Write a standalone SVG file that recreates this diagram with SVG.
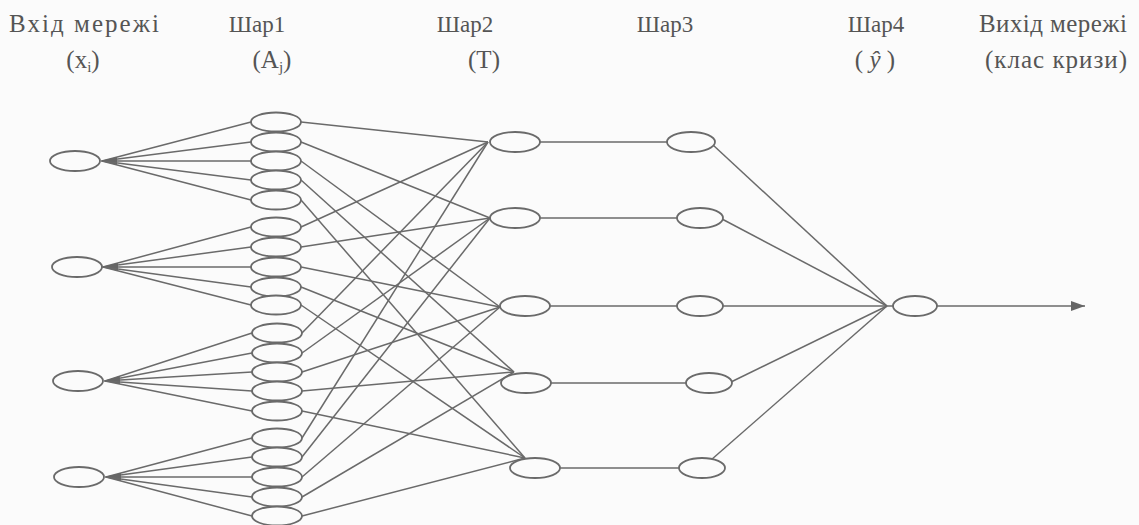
<svg xmlns="http://www.w3.org/2000/svg" width="1139" height="525" viewBox="0 0 1139 525">
<style>
.bg{fill:#fbfbfb}
.n ellipse{fill:#fbfbfb;stroke:#6a6a6a;stroke-width:1.8}
.c line{stroke:#6a6a6a;stroke-width:1.5}
.t{font-family:"Liberation Serif","Times New Roman",serif;font-size:23px;fill:#555;text-anchor:middle}
.w{font-size:25px}
</style>
<defs>
<marker id="ah" markerUnits="userSpaceOnUse" markerWidth="14" markerHeight="10" refX="14" refY="5" orient="auto">
<path d="M0,0 L14,5 L0,10 z" fill="#666"/>
</marker>
<marker id="ai" markerUnits="userSpaceOnUse" markerWidth="16" markerHeight="8" refX="16" refY="4" orient="auto">
<path d="M0,0 L16,4 L0,8 z" fill="#666"/>
</marker>
</defs>
<rect class="bg" x="0" y="0" width="1139" height="525"/>

<g id="labels" class="t">
<text class="w" x="84" y="32" textLength="150" lengthAdjust="spacing">Вхід мережі</text>
<text class="w" x="83" y="68">(x<tspan font-size="15" dy="4">i</tspan><tspan dy="-4">)</tspan></text>
<text x="257" y="32">Шар1</text>
<text class="w" x="272" y="68">(A<tspan font-size="15" dy="4">j</tspan><tspan dy="-4">)</tspan></text>
<text x="465" y="32">Шар2</text>
<text class="w" x="484" y="68">(T)</text>
<text x="665" y="32">Шар3</text>
<text x="876" y="32">Шар4</text>
<text class="w" x="875" y="68">( <tspan font-style="italic">ŷ</tspan> )</text>
<text class="w" x="1053" y="32" textLength="148" lengthAdjust="spacing">Вихід мережі</text>
<text class="w" x="1056" y="68" textLength="142" lengthAdjust="spacing">(клас кризи)</text>
</g>

<g id="connectors" class="c">
<!-- inputs to layer1 -->
<line x1="251" y1="122" x2="102" y2="161"/>
<line x1="251" y1="142" x2="102" y2="161"/>
<line x1="251" y1="161" x2="101" y2="161" marker-end="url(#ai)"/>
<line x1="251" y1="180" x2="102" y2="161"/>
<line x1="251" y1="200" x2="102" y2="161"/>
<line x1="251" y1="227" x2="103" y2="267"/>
<line x1="251" y1="247" x2="103" y2="267"/>
<line x1="251" y1="267" x2="102" y2="267" marker-end="url(#ai)"/>
<line x1="251" y1="287" x2="103" y2="267"/>
<line x1="251" y1="305" x2="103" y2="267"/>
<line x1="252" y1="333" x2="105" y2="381"/>
<line x1="252" y1="353" x2="105" y2="381"/>
<line x1="252" y1="372" x2="104" y2="381" marker-end="url(#ai)"/>
<line x1="252" y1="391" x2="105" y2="381"/>
<line x1="252" y1="411" x2="105" y2="381"/>
<line x1="252" y1="438" x2="106" y2="477"/>
<line x1="252" y1="457" x2="106" y2="477"/>
<line x1="252" y1="477" x2="105" y2="477" marker-end="url(#ai)"/>
<line x1="252" y1="497" x2="106" y2="477"/>
<line x1="252" y1="516" x2="106" y2="477"/>
<!-- layer1 to layer2 -->
<line x1="301" y1="122" x2="488" y2="142"/>
<line x1="301" y1="142" x2="490" y2="218"/>
<line x1="301" y1="161" x2="500" y2="307"/>
<line x1="301" y1="180" x2="514" y2="372"/>
<line x1="301" y1="200" x2="525" y2="458"/>
<line x1="301" y1="227" x2="488" y2="142"/>
<line x1="301" y1="247" x2="490" y2="218"/>
<line x1="301" y1="267" x2="500" y2="307"/>
<line x1="301" y1="287" x2="514" y2="372"/>
<line x1="301" y1="305" x2="525" y2="458"/>
<line x1="302" y1="333" x2="488" y2="142"/>
<line x1="302" y1="353" x2="490" y2="218"/>
<line x1="302" y1="372" x2="500" y2="307"/>
<line x1="302" y1="391" x2="514" y2="372"/>
<line x1="302" y1="411" x2="525" y2="458"/>
<line x1="302" y1="438" x2="488" y2="142"/>
<line x1="302" y1="457" x2="490" y2="218"/>
<line x1="302" y1="477" x2="500" y2="307"/>
<line x1="302" y1="497" x2="514" y2="372"/>
<line x1="302" y1="516" x2="525" y2="458"/>
<!-- layer2 to layer3 -->
<line x1="540" y1="142" x2="667" y2="142"/>
<line x1="540" y1="218" x2="677" y2="218"/>
<line x1="550" y1="306" x2="677" y2="306"/>
<line x1="551" y1="383" x2="686" y2="383"/>
<line x1="560" y1="468" x2="679" y2="468"/>
<!-- layer3 to layer4 -->
<line x1="713" y1="145" x2="887" y2="306"/>
<line x1="722" y1="219" x2="887" y2="306"/>
<line x1="722" y1="306" x2="887" y2="306"/>
<line x1="731" y1="382" x2="887" y2="306"/>
<line x1="711" y1="460" x2="887" y2="306"/>
<line x1="887" y1="306" x2="893" y2="306"/>
<!-- output -->
<line x1="937" y1="306" x2="1085" y2="306" marker-end="url(#ah)"/>
</g>

<g id="input1" class="n"><ellipse cx="75" cy="161" rx="25" ry="10"/></g>
<g id="input2" class="n"><ellipse cx="77" cy="267" rx="25" ry="10"/></g>
<g id="input3" class="n"><ellipse cx="78" cy="381" rx="25" ry="10"/></g>
<g id="input4" class="n"><ellipse cx="79" cy="477" rx="25" ry="10"/></g>

<g id="A1" class="n"><ellipse cx="276" cy="122" rx="25" ry="9.5"/></g>
<g id="A2" class="n"><ellipse cx="276" cy="142" rx="25" ry="9.5"/></g>
<g id="A3" class="n"><ellipse cx="276" cy="161" rx="25" ry="9.5"/></g>
<g id="A4" class="n"><ellipse cx="276" cy="180" rx="25" ry="9.5"/></g>
<g id="A5" class="n"><ellipse cx="276" cy="200" rx="25" ry="9.5"/></g>
<g id="A6" class="n"><ellipse cx="276" cy="227" rx="25" ry="9.5"/></g>
<g id="A7" class="n"><ellipse cx="276" cy="247" rx="25" ry="9.5"/></g>
<g id="A8" class="n"><ellipse cx="276" cy="267" rx="25" ry="9.5"/></g>
<g id="A9" class="n"><ellipse cx="276" cy="287" rx="25" ry="9.5"/></g>
<g id="A10" class="n"><ellipse cx="276" cy="305" rx="25" ry="9.5"/></g>
<g id="A11" class="n"><ellipse cx="277" cy="333" rx="25" ry="9.5"/></g>
<g id="A12" class="n"><ellipse cx="277" cy="353" rx="25" ry="9.5"/></g>
<g id="A13" class="n"><ellipse cx="277" cy="372" rx="25" ry="9.5"/></g>
<g id="A14" class="n"><ellipse cx="277" cy="391" rx="25" ry="9.5"/></g>
<g id="A15" class="n"><ellipse cx="277" cy="411" rx="25" ry="9.5"/></g>
<g id="A16" class="n"><ellipse cx="277" cy="438" rx="25" ry="9.5"/></g>
<g id="A17" class="n"><ellipse cx="277" cy="457" rx="25" ry="9.5"/></g>
<g id="A18" class="n"><ellipse cx="277" cy="477" rx="25" ry="9.5"/></g>
<g id="A19" class="n"><ellipse cx="277" cy="497" rx="25" ry="9.5"/></g>
<g id="A20" class="n"><ellipse cx="277" cy="516" rx="25" ry="9.5"/></g>

<g id="T1" class="n"><ellipse cx="515" cy="142" rx="25" ry="10"/></g>
<g id="T2" class="n"><ellipse cx="515" cy="218" rx="25" ry="10"/></g>
<g id="T3" class="n"><ellipse cx="525" cy="306" rx="25" ry="10"/></g>
<g id="T4" class="n"><ellipse cx="526" cy="383" rx="25" ry="10"/></g>
<g id="T5" class="n"><ellipse cx="535" cy="468" rx="25" ry="10"/></g>

<g id="L3_1" class="n"><ellipse cx="691" cy="142" rx="24" ry="10"/></g>
<g id="L3_2" class="n"><ellipse cx="700" cy="218" rx="23" ry="10"/></g>
<g id="L3_3" class="n"><ellipse cx="700" cy="306" rx="23" ry="10"/></g>
<g id="L3_4" class="n"><ellipse cx="709" cy="383" rx="23" ry="10"/></g>
<g id="L3_5" class="n"><ellipse cx="702" cy="468" rx="23" ry="10"/></g>

<g id="L4" class="n"><ellipse cx="915" cy="306" rx="22" ry="10"/></g>
</svg>
